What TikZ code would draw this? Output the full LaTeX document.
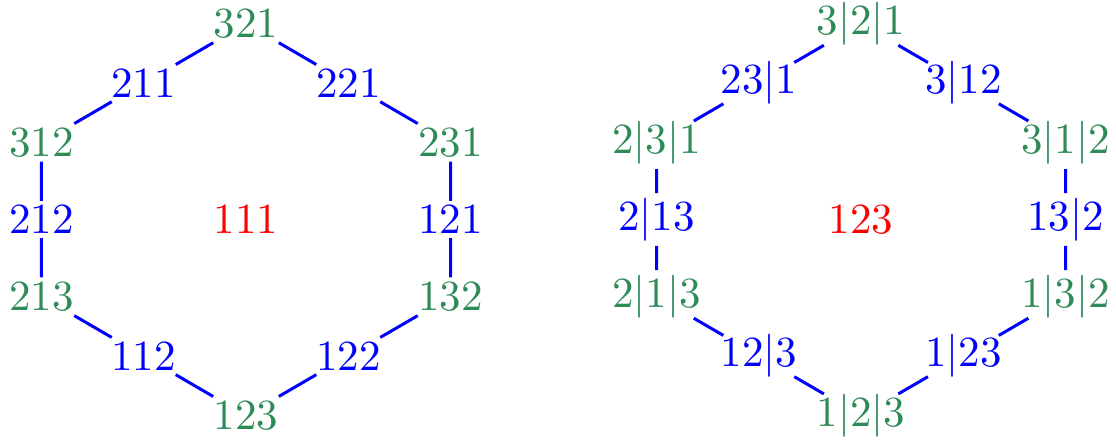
\documentclass[tikz,border=0pt]{standalone}
\usepackage{xcolor}
\usepackage{tikz}
\usetikzlibrary{positioning, calc, shapes.geometric}
\definecolor{hexcolor0}{HTML}{2E8B57}
\definecolor{hexcolor1}{HTML}{0000FF}
\definecolor{hexcolor2}{HTML}{FF0000}
\tikzset{
  vertex_node/.style={text=hexcolor0, inner sep=0.8pt},
  mid_node/.style={text=hexcolor1, inner sep=0.8pt},
  center_node/.style={text=hexcolor2, inner sep=0.8pt},
  vertex_bar_node/.style={vertex_node, ellipse, inner xsep=0.3pt, inner ysep=-0.8pt},
  mid_bar_node/.style={mid_node, ellipse, inner xsep=0.3pt, inner ysep=-0.8pt},
  hex_edge/.style={color=hexcolor1, line width=0.7pt}
}
\begin{document}
\begin{tikzpicture}[x=1cm, y=1cm]
\useasboundingbox (0,0) rectangle (9.123,3.589);
% left hexagon
\coordinate (hexL_center) at (2.011,1.794);
\node[center_node] (hexL_c) at (hexL_center) {111};
\node[vertex_node] (hexL_v0) at ($(hexL_center)+(0,1.602)$) {321};
\node[vertex_node] (hexL_v1) at ($(hexL_center)+(1.672,0.629)$) {231};
\node[vertex_node] (hexL_v2) at ($(hexL_center)+(1.672,-0.629)$) {132};
\node[vertex_node] (hexL_v3) at ($(hexL_center)+(0,-1.602)$) {123};
\node[vertex_node] (hexL_v4) at ($(hexL_center)+(-1.672,-0.629)$) {213};
\node[vertex_node] (hexL_v5) at ($(hexL_center)+(-1.672,0.629)$) {312};
\node[mid_node] (hexL_m0) at ($(hexL_v0.center)!0.5!(hexL_v1.center)$) {221};
\node[mid_node] (hexL_m1) at ($(hexL_v1.center)!0.5!(hexL_v2.center)$) {121};
\node[mid_node] (hexL_m2) at ($(hexL_v2.center)!0.5!(hexL_v3.center)$) {122};
\node[mid_node] (hexL_m3) at ($(hexL_v3.center)!0.5!(hexL_v4.center)$) {112};
\node[mid_node] (hexL_m4) at ($(hexL_v4.center)!0.5!(hexL_v5.center)$) {212};
\node[mid_node] (hexL_m5) at ($(hexL_v5.center)!0.5!(hexL_v0.center)$) {211};
\draw[hex_edge] (hexL_v0) -- (hexL_m0) -- (hexL_v1) -- (hexL_m1) -- (hexL_v2) -- (hexL_m2) -- (hexL_v3)
  -- (hexL_m3) -- (hexL_v4) -- (hexL_m4) -- (hexL_v5) -- (hexL_m5) -- (hexL_v0);
% right hexagon
\coordinate (hexR_center) at (7.039,1.794);
\node[center_node] (hexR_c) at (hexR_center) {123};
\node[vertex_bar_node] (hexR_v0) at ($(hexR_center)+(0,1.602)$) {3|2|1};
\node[vertex_bar_node] (hexR_v1) at ($(hexR_center)+(1.672,0.629)$) {3|1|2};
\node[vertex_bar_node] (hexR_v2) at ($(hexR_center)+(1.672,-0.629)$) {1|3|2};
\node[vertex_bar_node] (hexR_v3) at ($(hexR_center)+(0,-1.602)$) {1|2|3};
\node[vertex_bar_node] (hexR_v4) at ($(hexR_center)+(-1.672,-0.629)$) {2|1|3};
\node[vertex_bar_node] (hexR_v5) at ($(hexR_center)+(-1.672,0.629)$) {2|3|1};
\node[mid_bar_node] (hexR_m0) at ($(hexR_v0.center)!0.5!(hexR_v1.center)$) {3|12};
\node[mid_bar_node] (hexR_m1) at ($(hexR_v1.center)!0.5!(hexR_v2.center)$) {13|2};
\node[mid_bar_node] (hexR_m2) at ($(hexR_v2.center)!0.5!(hexR_v3.center)$) {1|23};
\node[mid_bar_node] (hexR_m3) at ($(hexR_v3.center)!0.5!(hexR_v4.center)$) {12|3};
\node[mid_bar_node] (hexR_m4) at ($(hexR_v4.center)!0.5!(hexR_v5.center)$) {2|13};
\node[mid_bar_node] (hexR_m5) at ($(hexR_v5.center)!0.5!(hexR_v0.center)$) {23|1};
\draw[hex_edge] (hexR_v0) -- (hexR_m0) -- (hexR_v1) -- (hexR_m1) -- (hexR_v2) -- (hexR_m2) -- (hexR_v3)
  -- (hexR_m3) -- (hexR_v4) -- (hexR_m4) -- (hexR_v5) -- (hexR_m5) -- (hexR_v0);
\end{tikzpicture}
\end{document}
